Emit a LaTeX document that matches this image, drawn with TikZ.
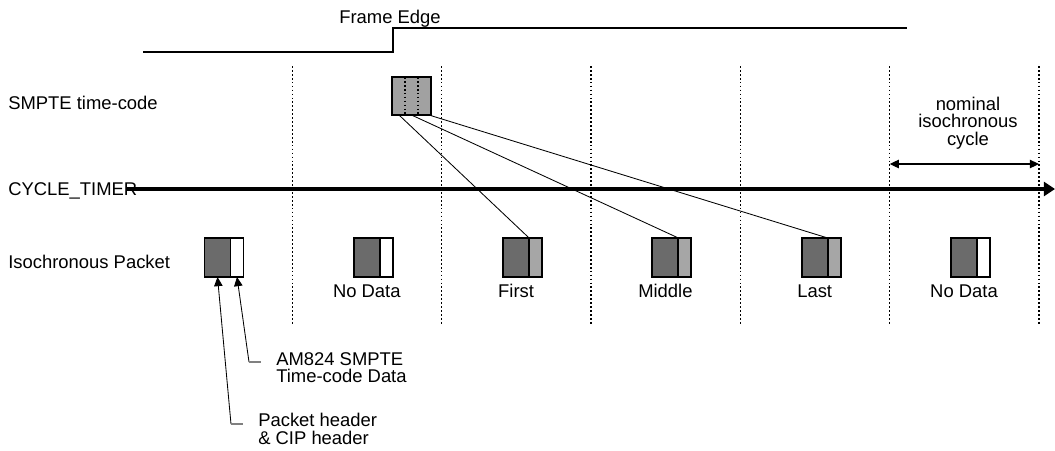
\documentclass[tikz,border=0pt]{standalone}
\usepackage{fontspec}
\setmainfont{Liberation Sans}
\usepackage{tikz}
\usetikzlibrary{arrows.meta}
\colorlet{pktdark}{black!58}
\colorlet{pktlight}{black!35}
\colorlet{tcfill}{black!37}
\tikzstyle{box}=[draw,line width=1.4pt,inner sep=0,outer sep=0]
\tikzstyle{hdr}=[box,fill=pktdark,minimum width=0.65cm,minimum height=0.975cm,anchor=north west]
\tikzstyle{dat}=[box,minimum width=0.325cm,minimum height=0.975cm,anchor=north west]
\tikzstyle{grid}=[line width=0.9pt,dash pattern=on 1.2pt off 1.6pt]
\tikzstyle{lbl}=[inner sep=0]
\tikzstyle{pointer}=[-{Triangle[length=6.5pt,width=6pt]},line width=0.6pt]
\tikzstyle{span}=[{Triangle[length=6.5pt,width=6pt]}-{Triangle[length=6.5pt,width=6pt]},line width=0.8pt]
\tikzstyle{timer}=[-{Triangle[length=8pt,width=10pt]},line width=2.3pt]
\def\packet#1#2#3{%
  \node[hdr] (#1h) at (#2,238) {};
  \node[dat,fill=#3] (#1d) at (#1h.north east) {}}
\def\vdot#1{\draw[grid] (#1,66) -- (#1,324)}

\begin{document}
\begin{tikzpicture}[x=0.025cm,y=-0.025cm,font=\fontsize{13.1}{12.5}\selectfont]
        \useasboundingbox (0,0) rectangle (1055,450);

        % frame edge
        \coordinate (FL) at (143,52);
        \coordinate (FR) at (393,52);
        \coordinate (FT) at (393,28);
        \coordinate (FE) at (907,28);
        \draw[line width=1pt] (FL) -- (FR) -- (FT) -- (FE);
        \node[lbl,anchor=base] (framelbl) at (390,23.5) {Frame Edge};

        % cycle boundaries
        \vdot{292.5};
        \vdot{441.8};
        \vdot{591.1};
        \vdot{740.4};
        \vdot{889.7};
        \vdot{1039};

        % row labels
        \node[lbl,anchor=base west] (tclbl) at (8,109) {SMPTE time-code};
        \node[lbl,anchor=base west] (ctlbl) at (8,195.5) {CYCLE\_TIMER};
        \node[lbl,anchor=base west] (isolbl) at (8,268) {Isochronous Packet};

        % time-code
        \node[box,fill=tcfill,minimum width=0.975cm,minimum height=0.95cm,anchor=north west] (tc) at (392,77) {};
        \draw[grid] (tc.north west) ++(13,0) --++ (0,38);
        \draw[grid] (tc.north west) ++(26,0) --++ (0,38);

        % cycle timer
        \coordinate (ctstart) at (127,189);
        \coordinate (ctend) at (1055,189);
        \draw[timer] (ctstart) -- (ctend);

        \coordinate (cyc1) at (889.7,164);
        \coordinate (cyc2) at (1039,164);
        \draw[span] (cyc1) -- (cyc2);
        \node[lbl,align=center] (cyclbl) at (968,123) {nominal\\isochronous\\cycle};

        % packets
        \packet{p0}{204.5}{white};
        \packet{p1}{353.8}{white};
        \packet{p2}{503.1}{pktlight};
        \packet{p3}{652.4}{pktlight};
        \packet{p4}{801.7}{pktlight};
        \packet{p5}{951}{white};

        \node[lbl,anchor=base] (p1lbl) at (p1h.center |- 0,297) {No Data};
        \node[lbl,anchor=base] (p2lbl) at (p2h.center |- 0,297) {First};
        \node[lbl,anchor=base] (p3lbl) at (p3h.center |- 0,297) {Middle};
        \node[lbl,anchor=base] (p4lbl) at (p4h.center |- 0,297) {Last};
        \node[lbl,anchor=base] (p5lbl) at (p5h.center |- 0,297) {No Data};

        \draw[line width=0.6pt] ([shift={(7,0)}]tc.south west) -- (p2d.north west);
        \draw[line width=0.6pt] ([shift={(19.5,0)}]tc.south west) -- (p3d.north west);
        \draw[line width=0.6pt] ([shift={(37,0)}]tc.south west) -- (p4d.north west);

        % callouts
        \coordinate (databend) at (249,362);
        \coordinate (datastub) at (261,362);
        \draw[pointer] (databend) -- (p0d.south);
        \draw[gray,line width=0.8pt] (databend) -- (datastub);
        \node[lbl,anchor=north west,align=left] (datalbl) at (276,352) {AM824 SMPTE\\Time-code Data};

        \coordinate (hdrbend) at (231,424);
        \coordinate (hdrstub) at (243,424);
        \draw[pointer] (hdrbend) -- (p0h.south);
        \draw[gray,line width=0.8pt] (hdrbend) -- (hdrstub);
        \node[lbl,anchor=north west,align=left] (hdrlbl) at (258,413) {Packet header\\\& CIP header};
    \end{tikzpicture}
\end{document}
